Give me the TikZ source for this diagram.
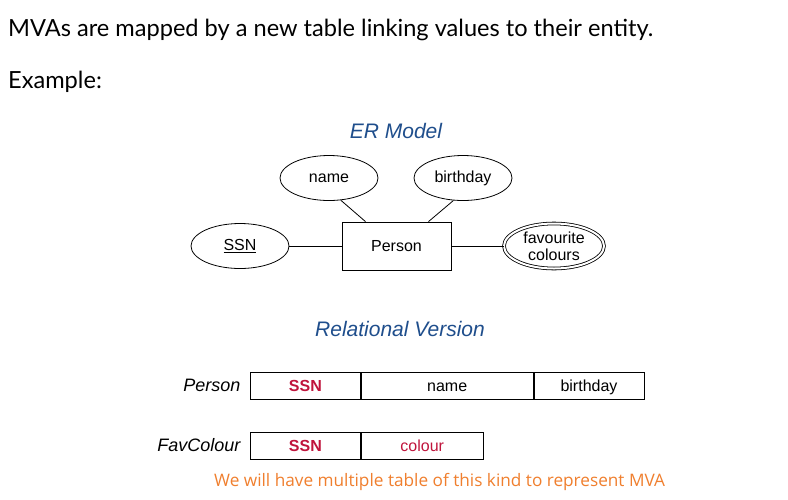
\documentclass[tikz,border=0pt]{standalone}
\usepackage{fontspec}
\setmainfont{Liberation Sans}
\newfontfamily\headfont{Lato}
\newfontfamily\notefont{Open Sans}
\usepackage{xcolor}
\usetikzlibrary{shapes.geometric}

\definecolor{titleblue}{HTML}{1F4E8C}
\definecolor{keyred}{HTML}{C0143C}
\definecolor{noteorange}{HTML}{F07F2E}

\begin{document}
\begin{tikzpicture}[
    x=1pt, y=-1pt,
    attr/.style={draw,ellipse,line width=0.8pt,minimum width=98pt,minimum height=45pt,
                 inner sep=0pt,font=\fontsize{16}{17}\selectfont},
    multi/.style={attr,double,double distance=2pt,minimum width=100pt,align=center,
                  font=\fontsize{16}{17}\selectfont},
    entity/.style={draw,line width=0.8pt,minimum width=109pt,minimum height=48pt,
                   font=\fontsize{16}{17}\selectfont},
    cell/.style={draw,line width=0.8pt,minimum height=27pt,inner sep=0pt,anchor=west,
                 text height=13pt,text depth=1.5pt,font=\fontsize{16}{17}\selectfont},
    keycell/.style={cell,text=keyred,font=\fontsize{16}{17}\selectfont\bfseries},
    tname/.style={anchor=east,font=\fontsize{18}{20}\selectfont\itshape},
    heading/.style={text=titleblue,font=\fontsize{21}{24}\selectfont\itshape},
    link/.style={line width=0.8pt},
  ]
  \useasboundingbox[fill=white] (0,0) rectangle (788,499);

  % intro text
  \node[anchor=base west,inner sep=0pt,font=\headfont\fontsize{23.6}{26}\selectfont] (intro) at (8,36)
    {MVAs are mapped by a new table linking values to their entity.};
  \node[anchor=base west,inner sep=0pt,font=\headfont\fontsize{23.6}{26}\selectfont] (example) at (8,88)
    {Example:};

  % --- ER model ---
  \node[heading] (ertitle) at (396,131) {ER Model};

  \node[entity] (person) at (396.5,246) {Person};
  \node[attr] (name)     at (329,178) {name};
  \node[attr] (birthday) at (463,178) {birthday};
  \node[attr] (ssn)      at (240,246) {\underline{SSN}};
  \node[multi] (favcol)  at (554,246) {favourite\\colours};

  \draw[link] (name.-62) -- ([xshift=-31pt]person.north);
  \draw[link] (birthday.-113) -- ([xshift=32pt]person.north);
  \draw[link] (ssn) -- (person);
  \draw[link] (person) -- (favcol);

  % --- relational version ---
  \node[heading] (reltitle) at (400,329) {Relational Version};

  \node[tname] (tperson) at (244,385.5) {Person};
  \node[keycell,minimum width=110pt] (pssn) at (250,385.5) {SSN};
  \node[cell,minimum width=172pt] (pname) at (pssn.east) {name};
  \node[cell,minimum width=110pt] (pbirth) at (pname.east) {birthday};

  \node[tname] (tfav) at (244,445.5) {FavColour};
  \node[keycell,minimum width=110pt] (fssn) at (250,445.5) {SSN};
  \node[cell,text=keyred,minimum width=122pt] (fcol) at (fssn.east) {colour};

  % note
  \node[anchor=base west,inner sep=0pt,text=noteorange,font=\notefont\fontsize{17.2}{20}\selectfont] (note)
    at (214,486) {We will have multiple table of this kind to represent MVA};
\end{tikzpicture}
\end{document}
